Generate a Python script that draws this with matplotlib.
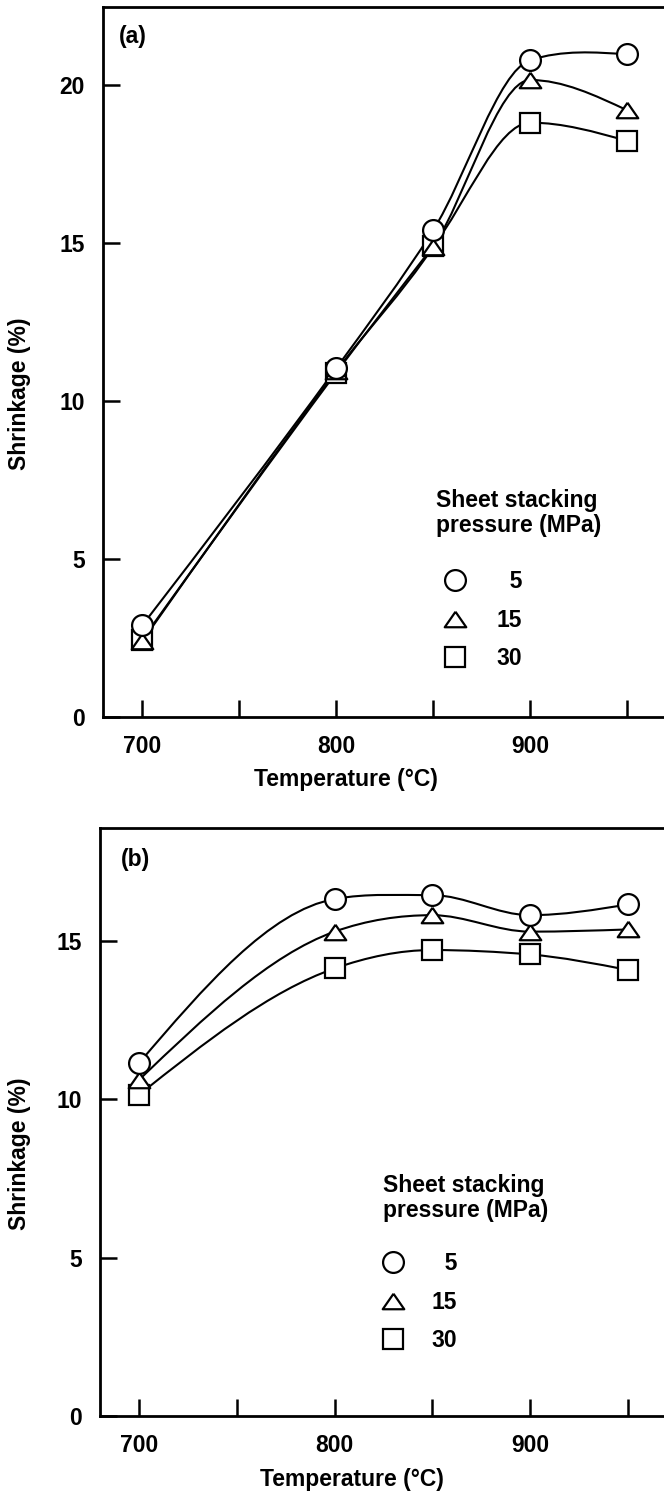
import numpy as np
import matplotlib.pyplot as plt
from matplotlib.path import Path
from matplotlib.patches import PathPatch

plt.rcParams['font.family'] = ['Liberation Sans', 'DejaVu Sans']
plt.rcParams['font.weight'] = 'bold'

temps = [700, 800, 850, 900, 950]
pressures = ['  5', '15', '30']
legend_title = 'Sheet stacking\npressure (MPa)'

# panel (a) shrinkage (%)
a_5 = [2.9, 11.04, 15.41, 20.79, 20.97]
a_15 = [2.4, 10.95, 14.88, 20.16, 19.2]
a_30 = [2.45, 10.9, 14.9, 18.81, 18.23]

# panel (b) shrinkage (%)
b_5 = [11.13, 16.31, 16.43, 15.8, 16.14]
b_15 = [10.6, 15.28, 15.8, 15.28, 15.35]
b_30 = [10.13, 14.12, 14.7, 14.56, 14.07]

tri = [(0, 0.36), (-0.5, -0.36), (0.5, -0.36), (0, 0.36)]
markers = {'  5': ('o', 15), '15': (tri, 15.5), '30': ('s', 14)}
FS = 16.5


def smooth_path(x, y):
    # smooth cubic through the points, as bezier segments
    x = np.asarray(x, float)
    y = np.asarray(y, float)
    n = len(x)
    h = np.diff(x)
    sec = np.diff(y) / h
    m = np.zeros(n)
    for i in range(1, n - 1):
        if sec[i - 1] * sec[i] > 0:
            m[i] = np.sign(sec[i]) * np.sqrt(sec[i - 1] * sec[i])
    m[0] = (3 * sec[0] - m[1]) / 2
    m[-1] = (3 * sec[-1] - m[-2]) / 2
    verts = [(x[0], y[0])]
    codes = [Path.MOVETO]
    for i in range(n - 1):
        verts += [(x[i] + h[i] / 3, y[i] + m[i] * h[i] / 3),
                  (x[i + 1] - h[i] / 3, y[i + 1] - m[i + 1] * h[i] / 3),
                  (x[i + 1], y[i + 1])]
        codes += [Path.CURVE4] * 3
    return Path(verts, codes)


def draw_panel(ax, series, ylim, yticks, tag, tag_xy, title_xy, leg_xy, pad_txt,
               xlab_xy, ylab_xy, xlim):
    for vals in series:
        ax.add_patch(PathPatch(smooth_path(temps, vals), fc='none', ec='black',
                               lw=1.5, transform=ax.transData, zorder=2))
    handles = []
    # squares first, circles on top
    for z, idx in enumerate([2, 1, 0]):
        mk, ms = markers[pressures[idx]]
        h, = ax.plot(temps, series[idx], linestyle='none', marker=mk, ms=ms,
                     mfc='white', mec='black', mew=1.6, zorder=3 + z,
                     label=pressures[idx])
        handles.append(h)
    handles = handles[::-1]
    ax.set_xlim(*xlim)
    ax.set_ylim(*ylim)
    ax.set_xticks([700, 750, 800, 850, 900, 950])
    ax.set_xticklabels(['700', '', '800', '', '900', ''])
    ax.set_yticks(yticks)
    ax.tick_params(direction='in', length=12, width=1.8, labelsize=FS, pad=13)
    for s in ax.spines.values():
        s.set_linewidth(2)
    ax.set_xlabel('Temperature (\u00b0C)', fontsize=FS, fontweight='bold')
    ax.set_ylabel('Shrinkage (%)', fontsize=FS, fontweight='bold')
    ax.xaxis.set_label_coords(*xlab_xy)
    ax.yaxis.set_label_coords(*ylab_xy)
    ax.text(tag_xy[0], tag_xy[1], tag, transform=ax.transAxes, fontsize=FS,
            fontweight='bold', va='center', ha='left')
    ax.text(title_xy[0], title_xy[1], legend_title, transform=ax.transAxes,
            fontsize=FS, fontweight='bold', va='top', ha='left', linespacing=1.1)
    ax.legend(handles=handles, loc='upper left', bbox_to_anchor=leg_xy,
              frameon=False, borderpad=0, borderaxespad=0, handlelength=1.0,
              handletextpad=pad_txt, labelspacing=0.68,
              prop={'size': FS, 'weight': 'bold'})


fig = plt.figure(figsize=(6.64, 14.97), dpi=100)
ax_a = fig.add_axes([102.7 / 664, 780 / 1497, (680 - 102.7) / 664, 710 / 1497])
ax_b = fig.add_axes([99.6 / 664, 81 / 1497, (680 - 99.6) / 664, 588 / 1497])

draw_panel(ax_a, [a_5, a_15, a_30], (0, 22.47), [0, 5, 10, 15, 20], '(a)',
           (0.028, 0.958), (0.577, 0.321), (0.591, 0.207), 1.3,
           (0.421, -0.072), (-0.124, 0.455), (679.6, 977.2))
draw_panel(ax_b, [b_5, b_15, b_30], (0, 18.55), [0, 5, 10, 15], '(b)',
           (0.037, 0.946), (0.488, 0.4116), (0.485, 0.279), 1.2,
           (0.435, -0.088), (-0.118, 0.446), (679.9, 976.6))

fig.savefig('out.png', dpi=100)
